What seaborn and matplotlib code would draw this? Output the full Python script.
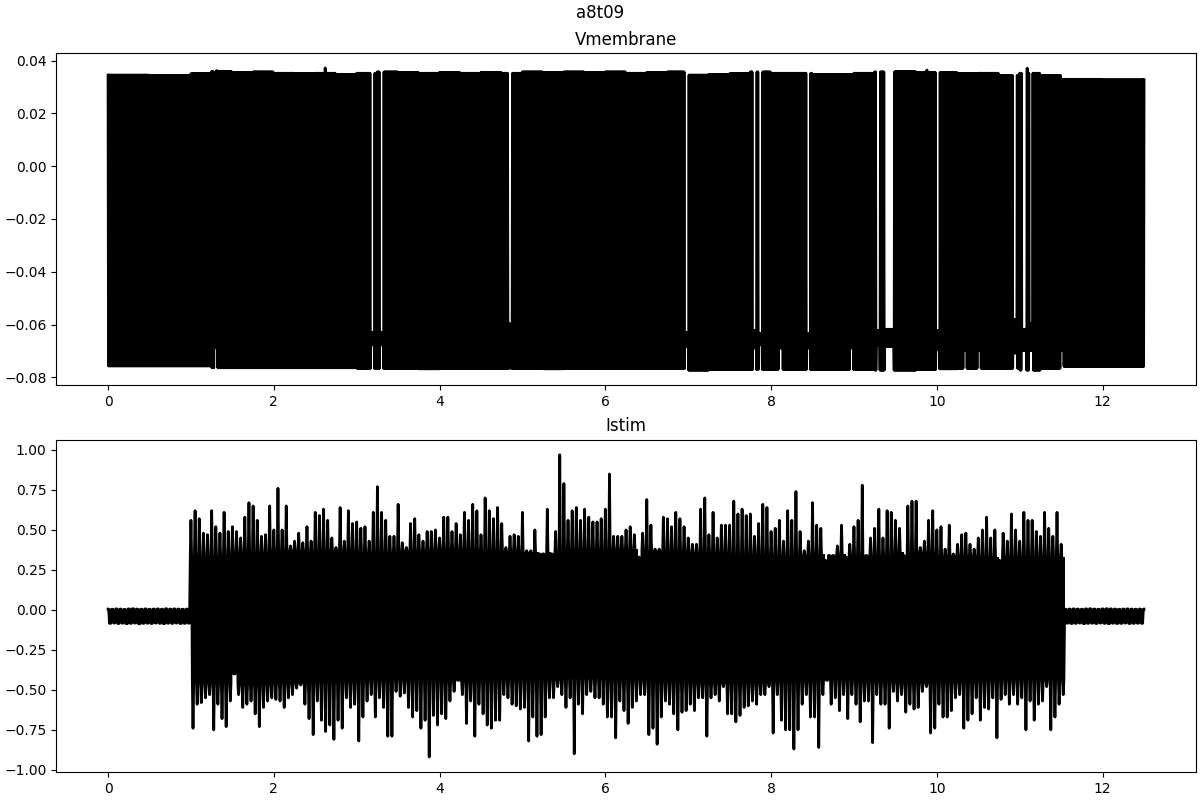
import numpy as np
import matplotlib
matplotlib.use('Agg')
import matplotlib.pyplot as plt
import seaborn as sns

plt.rcParams['path.simplify'] = False

# ------------------------------
# Vmembrane: spike band
# ------------------------------
v_bin = 0.25  # seconds per envelope bin
v_top = [0.0345, 0.0345, 0.0343, 0.0343, 0.0350, 0.0358, 0.0355, 0.0357, 0.0352, 0.0350,
         0.0352, 0.0347, 0.0352, 0.0357, 0.0355, 0.0352, 0.0355, 0.0352, 0.0355, 0.0352,
         0.0357, 0.0355, 0.0357, 0.0355, 0.0357, 0.0352, 0.0355, 0.0357, 0.0345, 0.0347,
         0.0350, 0.0357, 0.0352, 0.0352, 0.0347, 0.0347, 0.0352, 0.0357, 0.0358, 0.0355,
         0.0355, 0.0350, 0.0352, 0.0344, 0.0352, 0.0344, 0.0329, 0.0329, 0.0327, 0.0327]
v_bot = [-0.0757, -0.0757, -0.0757, -0.0757, -0.0757, -0.0764, -0.0764, -0.0764, -0.0764, -0.0764,
         -0.0764, -0.0764, -0.0766, -0.0766, -0.0766, -0.0768, -0.0766, -0.0766, -0.0766, -0.0766,
         -0.0766, -0.0768, -0.0766, -0.0766, -0.0766, -0.0766, -0.0766, -0.0766, -0.0773, -0.0770,
         -0.0770, -0.0770, -0.0770, -0.0770, -0.0770, -0.0770, -0.0770, -0.0773, -0.0773, -0.0770,
         -0.0768, -0.0766, -0.0766, -0.0766, -0.0773, -0.0766, -0.0759, -0.0759, -0.0759, -0.0759]
# tallest single spikes (time s, peak V)
v_peaks = [(2.62, 0.0372), (11.09, 0.0371), (9.88, 0.0364), (1.31, 0.0362)]
# spike-free pauses: (start s, end s, low V, high V); high None = spikes go on, only troughs stay shallow
v_pauses = [(1.277, 1.323, -0.0688, -0.0516),
            (3.167, 3.213, -0.0677, -0.0630),
            (3.277, 3.323, -0.0677, -0.0630),
            (4.827, 4.873, -0.0765, -0.0598),
            (6.957, 7.003, -0.0683, -0.0630),
            (7.777, 7.823, -0.0689, -0.0623),
            (7.847, 7.893, -0.0677, -0.0635),
            (8.093, 8.139, -0.0689, None),
            (8.427, 8.473, -0.0689, -0.0635),
            (8.947, 8.993, -0.0689, None),
            (9.267, 9.313, -0.0677, -0.0623),
            (9.367, 9.482, -0.0683, -0.0618),
            (9.987, 10.033, -0.0696, -0.0623),
            (10.317, 10.363, -0.0698, None),
            (10.487, 10.533, -0.0698, None),
            (10.919, 10.965, -0.0708, -0.0582),
            (11.022, 11.083, -0.0698, -0.0618),
            (11.112, 11.158, -0.0698, -0.0598),
            (11.487, 11.533, -0.0698, None)]

# ------------------------------
# Istim: per-bin max / min (0.05 s bins)
# ------------------------------
ist_bin = 0.05
ist_hi = [0.005, 0.004, 0.006, 0.005, 0.003, 0.006, 0.007, 0.005, 0.004, 0.006,
          0.004, 0.005, 0.006, 0.004, 0.007, 0.005, 0.006, 0.005, 0.004, 0.005,
          0.56, 0.62, 0.57, 0.48, 0.47, 0.62, 0.52, 0.48, 0.61, 0.49,
          0.52, 0.49, 0.45, 0.58, 0.67, 0.65, 0.56, 0.46, 0.47, 0.65,
          0.50, 0.76, 0.50, 0.65, 0.40, 0.43, 0.48, 0.42, 0.52, 0.43,
          0.61, 0.59, 0.63, 0.56, 0.45, 0.39, 0.64, 0.43, 0.62, 0.54,
          0.55, 0.51, 0.52, 0.43, 0.61, 0.77, 0.61, 0.56, 0.46, 0.46,
          0.66, 0.42, 0.39, 0.54, 0.57, 0.47, 0.43, 0.49, 0.49, 0.50,
          0.45, 0.58, 0.58, 0.49, 0.54, 0.47, 0.61, 0.56, 0.66, 0.62,
          0.47, 0.70, 0.62, 0.57, 0.64, 0.54, 0.39, 0.46, 0.47, 0.46,
          0.61, 0.37, 0.37, 0.50, 0.35, 0.35, 0.63, 0.35, 0.49, 0.97,
          0.79, 0.56, 0.62, 0.64, 0.56, 0.63, 0.58, 0.55, 0.55, 0.57,
          0.63, 0.85, 0.46, 0.46, 0.46, 0.50, 0.52, 0.47, 0.33, 0.48,
          0.69, 0.53, 0.38, 0.38, 0.58, 0.57, 0.52, 0.61, 0.57, 0.52,
          0.45, 0.41, 0.41, 0.63, 0.70, 0.47, 0.61, 0.45, 0.53, 0.53,
          0.53, 0.68, 0.60, 0.63, 0.59, 0.60, 0.46, 0.54, 0.66, 0.64,
          0.49, 0.51, 0.56, 0.43, 0.62, 0.56, 0.74, 0.49, 0.37, 0.43,
          0.67, 0.53, 0.51, 0.31, 0.34, 0.34, 0.40, 0.53, 0.33, 0.41,
          0.52, 0.56, 0.78, 0.34, 0.45, 0.51, 0.63, 0.45, 0.62, 0.61,
          0.56, 0.51, 0.34, 0.65, 0.68, 0.68, 0.39, 0.43, 0.56, 0.62,
          0.50, 0.52, 0.38, 0.53, 0.35, 0.41, 0.47, 0.48, 0.41, 0.38,
          0.45, 0.50, 0.58, 0.45, 0.50, 0.31, 0.48, 0.43, 0.60, 0.50,
          0.43, 0.61, 0.56, 0.56, 0.49, 0.46, 0.61, 0.51, 0.46, 0.61,
          0.41, 0.004, 0.005, 0.006, 0.005, 0.004, 0.006, 0.007, 0.005, 0.004,
          0.006, 0.007, 0.006, 0.005, 0.004, 0.005, 0.006, 0.005, 0.004, 0.005,
          0.005]
ist_lo = [-0.084, -0.082, -0.085, -0.083, -0.086, -0.084, -0.082, -0.087, -0.084, -0.083,
          -0.085, -0.082, -0.084, -0.086, -0.083, -0.084, -0.082, -0.085, -0.084, -0.083,
          -0.74, -0.59, -0.58, -0.55, -0.53, -0.75, -0.59, -0.68, -0.73, -0.57,
          -0.40, -0.53, -0.61, -0.59, -0.57, -0.65, -0.73, -0.61, -0.57, -0.55,
          -0.56, -0.57, -0.61, -0.55, -0.53, -0.49, -0.47, -0.59, -0.68, -0.78,
          -0.57, -0.69, -0.76, -0.72, -0.81, -0.69, -0.74, -0.55, -0.61, -0.59,
          -0.82, -0.67, -0.57, -0.53, -0.67, -0.55, -0.61, -0.79, -0.79, -0.51,
          -0.54, -0.52, -0.61, -0.67, -0.63, -0.74, -0.69, -0.92, -0.66, -0.72,
          -0.65, -0.68, -0.57, -0.51, -0.44, -0.53, -0.71, -0.57, -0.79, -0.59,
          -0.65, -0.72, -0.74, -0.69, -0.69, -0.53, -0.55, -0.59, -0.60, -0.62,
          -0.61, -0.82, -0.67, -0.79, -0.78, -0.67, -0.55, -0.55, -0.48, -0.53,
          -0.61, -0.55, -0.90, -0.59, -0.65, -0.53, -0.51, -0.55, -0.55, -0.59,
          -0.67, -0.67, -0.80, -0.57, -0.63, -0.71, -0.61, -0.57, -0.53, -0.53,
          -0.78, -0.74, -0.84, -0.67, -0.57, -0.59, -0.65, -0.75, -0.64, -0.63,
          -0.59, -0.63, -0.55, -0.55, -0.79, -0.55, -0.53, -0.57, -0.48, -0.65,
          -0.65, -0.70, -0.66, -0.61, -0.60, -0.57, -0.59, -0.53, -0.53, -0.48,
          -0.77, -0.53, -0.69, -0.75, -0.75, -0.87, -0.75, -0.59, -0.53, -0.67,
          -0.67, -0.86, -0.53, -0.44, -0.59, -0.55, -0.63, -0.53, -0.68, -0.53,
          -0.59, -0.70, -0.57, -0.57, -0.83, -0.53, -0.59, -0.59, -0.74, -0.51,
          -0.57, -0.53, -0.64, -0.59, -0.62, -0.61, -0.51, -0.48, -0.77, -0.74,
          -0.59, -0.67, -0.67, -0.63, -0.55, -0.53, -0.74, -0.69, -0.65, -0.55,
          -0.69, -0.61, -0.62, -0.55, -0.80, -0.56, -0.53, -0.59, -0.53, -0.59,
          -0.55, -0.75, -0.57, -0.69, -0.59, -0.57, -0.48, -0.75, -0.67, -0.59,
          -0.53, -0.083, -0.085, -0.084, -0.082, -0.086, -0.084, -0.083, -0.085, -0.082,
          -0.084, -0.086, -0.083, -0.085, -0.084, -0.082, -0.085, -0.084, -0.083, -0.084]
# solid core of the noise (0.5 s bins): level the white notches between spikes reach
core_bin = 0.5
ist_core_hi = [0.36, 0.36, 0.34, 0.36, 0.37, 0.37, 0.36, 0.37, 0.38, 0.37, 0.36, 0.38, 0.38,
               0.37, 0.36, 0.35, 0.34, 0.35, 0.34, 0.36, 0.34, 0.33, 0.34, 0.33, 0.33]
ist_core_lo = [-0.44, -0.44, -0.46, -0.47, -0.46, -0.45, -0.44, -0.44, -0.45, -0.44, -0.44, -0.43, -0.44,
               -0.45, -0.46, -0.46, -0.45, -0.44, -0.45, -0.46, -0.45, -0.44, -0.44, -0.44, -0.44]

# ------------------------------
# Build the drawn traces (max/min decimated form)
# ------------------------------
dt = 0.005
v_t = np.arange(0, 12.5 + dt / 2, dt)
k = np.minimum((v_t / v_bin).astype(int), len(v_top) - 1)
hi = np.array(v_top)[k]
lo = np.array(v_bot)[k]
for t0, t1, plo, phi in v_pauses:
    m = (v_t >= t0) & (v_t <= t1)
    if phi is not None:
        hi[m] = phi
    lo[m] = plo
v_trace = np.where(np.arange(len(v_t)) % 2 == 0, hi, lo)
for tp, vp in v_peaks:
    i = int(round(tp / dt / 2)) * 2
    v_trace[i] = vp

w = 0.008  # half width of one drawn spike, s
ist_x, ist_y = [], []
core_t, core_top, core_bot = [], [], []
for i, peak in enumerate(ist_hi):
    t = i * ist_bin
    c = min(int(t / core_bin), len(ist_core_hi) - 1)
    top = min(ist_core_hi[c], peak)
    ist_x += [t - w, t, t + w]
    ist_y += [top, peak, top]
    if i < len(ist_lo):
        bot = max(ist_core_lo[c], ist_lo[i])
        tl = t + ist_bin / 2
        ist_x += [tl - w, tl, tl + w]
        ist_y += [bot, ist_lo[i], bot]
        core_t.append(t)
        core_top.append(top)
        core_bot.append(bot)
ist_x = np.clip(ist_x, 0, 12.5)
core_t.append(12.5)
core_top.append(core_top[-1])
core_bot.append(core_bot[-1])

# ------------------------------
# Plot
# ------------------------------
fig, (ax1, ax2) = plt.subplots(2, 1, figsize=(12, 8), dpi=100, layout='constrained')
fig.suptitle('a8t09')

sns.lineplot(x=v_t, y=v_trace, ax=ax1, color='k', linewidth=2, sort=False, estimator=None)
ax1.set_title('Vmembrane')

ax2.fill_between(core_t, core_bot, core_top, step='post', color='k', linewidth=0)
sns.lineplot(x=ist_x, y=ist_y, ax=ax2, color='k', linewidth=2, sort=False, estimator=None)
ax2.set_title('Istim')

fig.savefig('out.png')
